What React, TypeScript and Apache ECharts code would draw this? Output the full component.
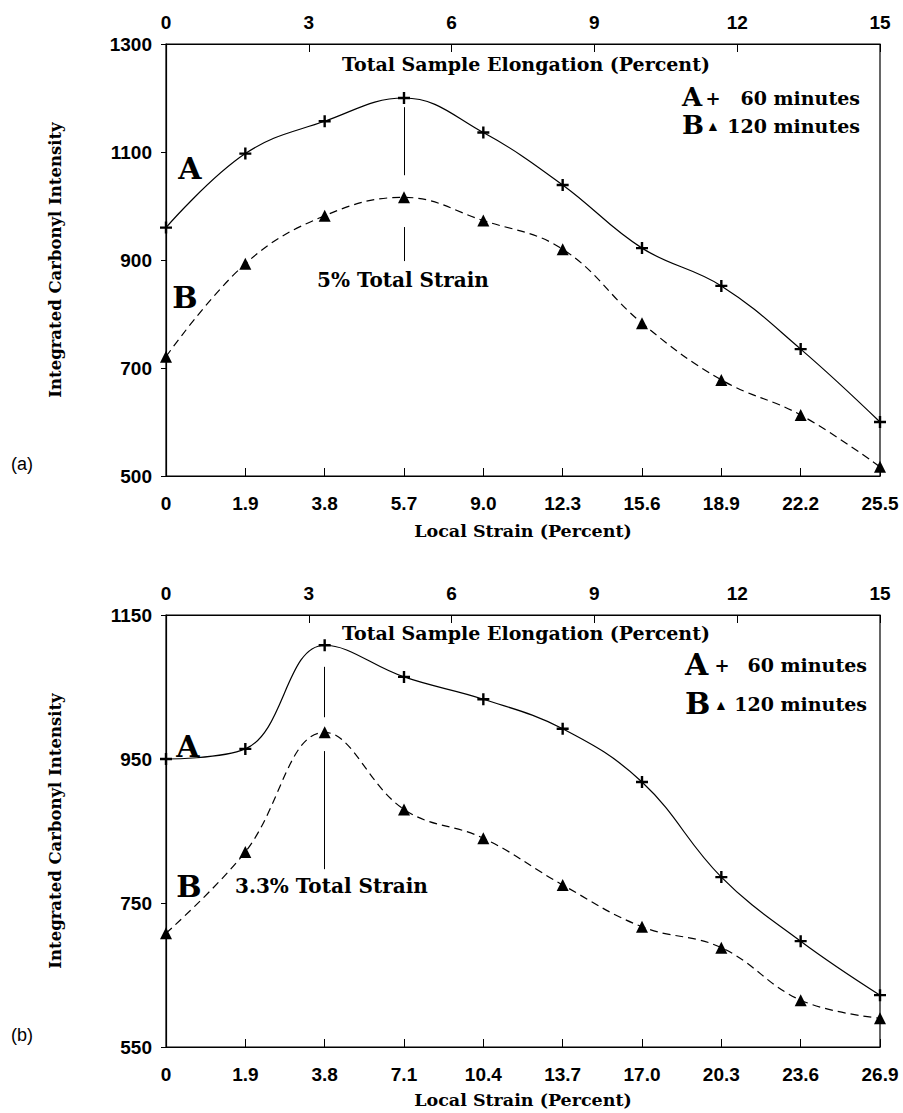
import React, { useEffect, useRef } from "react";
import * as echarts from "echarts";

// ---- data ----
const localStrainA = ["0", "1.9", "3.8", "5.7", "9.0", "12.3", "15.6", "18.9", "22.2", "25.5"];
const localStrainB = ["0", "1.9", "3.8", "7.1", "10.4", "13.7", "17.0", "20.3", "23.6", "26.9"];
const elongationTicks = [0, 3, 6, 9, 12, 15];
const panelA60 = [960, 1097, 1157, 1200, 1136, 1039, 922, 852, 735, 600];
const panelA120 = [721, 893, 982, 1016, 973, 920, 783, 678, 613, 517];
const panelB60 = [950, 964, 1108, 1064, 1033, 992, 918, 786, 697, 622];
const panelB120 = [708, 821, 987, 880, 840, 775, 717, 688, 615, 590];
const yTicksA = [500, 700, 900, 1100, 1300];
const yTicksB = [550, 750, 950, 1150];
// vertical strain markers: [x index, segments of y ranges]
const markerA = { x: 3, segs: [[1183, 1057], [961, 898]] };
const markerB = { x: 2, segs: [[1078, 1008], [961, 797]] };

const PLUS = "path://M4,0H6V4H10V6H6V10H4V6H0V4H4Z";
const SANS = "'Liberation Sans', Arial, sans-serif";
const SERIF = "'DejaVu Serif', serif";

function panelAxes(gridIndex: number, cats: string[], yMin: number, yMax: number, yTicks: number[]) {
  const xBottom = {
    type: "value",
    gridIndex,
    min: 0,
    max: cats.length - 1,
    interval: 1,
    position: "bottom",
    axisLine: { show: true, lineStyle: { color: "#000", width: 1.2 } },
    axisTick: { show: true, inside: true, length: 8, lineStyle: { color: "#000" } },
    axisLabel: {
      color: "#000",
      fontFamily: SANS,
      fontWeight: "bold",
      fontSize: 19,
      margin: 18,
      formatter: (v: number) => cats[Math.round(v)] ?? "",
    },
    splitLine: { show: false },
  };
  const xTop = {
    type: "value",
    gridIndex,
    min: 0,
    max: 15,
    interval: 3,
    position: "top",
    axisLine: { show: true, lineStyle: { color: "#000", width: 1.2 } },
    axisTick: { show: true, inside: true, length: 8, lineStyle: { color: "#000" } },
    axisLabel: {
      color: "#000",
      fontFamily: SANS,
      fontWeight: "bold",
      fontSize: 19,
      margin: 12,
      customValues: elongationTicks,
      formatter: (v: number) => String(v),
    },
    splitLine: { show: false },
  };
  const y = {
    type: "value",
    gridIndex,
    min: yMin,
    max: yMax,
    axisLine: { show: true, lineStyle: { color: "#000", width: 1.2 } },
    axisTick: { show: true, inside: false, length: 5, lineStyle: { color: "#000" }, customValues: yTicks },
    axisLabel: {
      color: "#000",
      fontFamily: SANS,
      fontWeight: "bold",
      fontSize: 19,
      margin: 14,
      customValues: yTicks,
      formatter: (v: number) => String(v),
    },
    splitLine: { show: false },
  };
  return { xBottom, xTop, y };
}

function markLineFor(m: { x: number; segs: number[][] }) {
  return {
    silent: true,
    symbol: ["none", "none"],
    label: { show: false },
    lineStyle: { color: "#000", width: 1, type: "solid" },
    data: m.segs.map((s) => [{ coord: [m.x, s[0]] }, { coord: [m.x, s[1]] }]),
  };
}

function lineSeries(xAxisIndex: number, yAxisIndex: number, vals: number[], kind: "plus" | "tri", mark?: any) {
  return {
    type: "line",
    xAxisIndex,
    yAxisIndex,
    data: vals.map((v, i) => [i, v]),
    smooth: 0.4,
    symbol: kind === "plus" ? PLUS : "triangle",
    symbolSize: 12,
    itemStyle: { color: "#000", borderWidth: 0 },
    lineStyle: { color: "#000", width: 1.2, type: kind === "plus" ? "solid" : [8, 5] },
    markLine: mark,
    z: 3,
  };
}

function txt(x: number, y: number, text: string, size: number, opts: any = {}) {
  return {
    type: "text",
    x,
    y,
    rotation: opts.rotation ?? 0,
    style: {
      text,
      fill: "#000",
      font: `${opts.weight ?? "bold"} ${size}px ${opts.family ?? SERIF}`,
      textAlign: opts.align ?? "left",
      textVerticalAlign: "middle",
    },
    z: 10,
  };
}

export default function App() {
  const ref = useRef<HTMLDivElement>(null);
  useEffect(() => {
    if (!ref.current) return;
    const chart = echarts.init(ref.current, undefined, { renderer: "svg" });
    const a = panelAxes(0, localStrainA, 500, 1300, yTicksA);
    const b = panelAxes(1, localStrainB, 550, 1150, yTicksB);

    const graphic: any[] = [
      // panel (a)
      txt(526, 64, "Total Sample Elongation (Percent)", 19, { align: "center" }),
      txt(682, 97, "A", 26),
      txt(713, 98, "+", 18, { align: "center" }),
      txt(860, 98, "60 minutes", 19, { align: "right" }),
      txt(682, 125, "B", 26),
      txt(713, 126, "▲", 14, { align: "center", family: SANS }),
      txt(860, 126, "120 minutes", 19, { align: "right" }),
      txt(190, 168, "A", 30, { align: "center" }),
      txt(185, 297, "B", 30, { align: "center" }),
      txt(317, 280, "5% Total Strain", 20),
      txt(55, 260, "Integrated Carbonyl Intensity", 16.5, { align: "center", rotation: Math.PI / 2 }),
      txt(523, 531, "Local Strain (Percent)", 17.5, { align: "center" }),
      txt(22, 464, "(a)", 18, { weight: "normal", family: SANS, align: "center" }),
      // panel (b)
      txt(526, 633, "Total Sample Elongation (Percent)", 19, { align: "center" }),
      txt(685, 664, "A", 30),
      txt(722, 665, "+", 18, { align: "center" }),
      txt(867, 665, "60 minutes", 19, { align: "right" }),
      txt(685, 703, "B", 30),
      txt(721, 705, "▲", 14, { align: "center", family: SANS }),
      txt(867, 704, "120 minutes", 19, { align: "right" }),
      txt(188, 746, "A", 30, { align: "center" }),
      txt(189, 886, "B", 30, { align: "center" }),
      txt(235, 886, "3.3% Total Strain", 20),
      txt(55, 831, "Integrated Carbonyl Intensity", 16.5, { align: "center", rotation: Math.PI / 2 }),
      txt(523, 1100, "Local Strain (Percent)", 17.5, { align: "center" }),
      txt(22, 1035, "(b)", 18, { weight: "normal", family: SANS, align: "center" }),
    ];

    chart.setOption({
      animation: false,
      backgroundColor: "#fff",
      grid: [
        { left: 166, right: 23, top: 44, height: 432, show: true, borderColor: "#000", borderWidth: 1.2, backgroundColor: "transparent" },
        { left: 166, right: 23, top: 615, height: 432, show: true, borderColor: "#000", borderWidth: 1.2, backgroundColor: "transparent" },
      ],
      xAxis: [a.xBottom, a.xTop, b.xBottom, b.xTop],
      yAxis: [a.y, b.y],
      series: [
        lineSeries(0, 0, panelA60, "plus", markLineFor(markerA)),
        lineSeries(0, 0, panelA120, "tri"),
        lineSeries(2, 1, panelB60, "plus", markLineFor(markerB)),
        lineSeries(2, 1, panelB120, "tri"),
      ],
      graphic,
    });
    return () => chart.dispose();
  }, []);
  return <div ref={ref} style={{ position: "absolute", left: 0, top: 0, width: 903, height: 1113 }} />;
}
